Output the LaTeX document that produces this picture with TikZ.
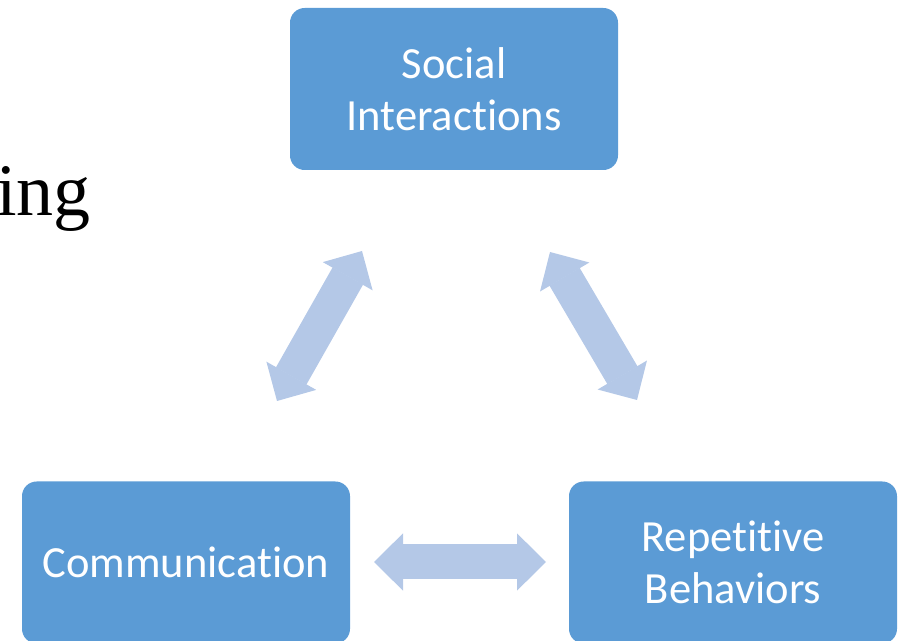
\documentclass[tikz,border=0pt]{standalone}
\usepackage{fontspec}
\setmainfont{Liberation Serif}
\newfontfamily\boxfont[Ligatures={NoCommon}]{Carlito}
\usetikzlibrary{arrows.meta}

\definecolor{boxblue}{RGB}{91,155,213}
\definecolor{linkblue}{RGB}{180,200,231}

\tikzset{
  areabox/.style={
    draw=none, fill=boxblue, rounded corners=11pt,
    minimum width=246pt, minimum height=121.5pt, inner sep=0pt,
    text=white, align=center,
    font=\boxfont\fontsize{33.4}{39}\selectfont
  },
  blocktip/.tip={Triangle[length=21.75pt, width=42.75pt, line width=1pt]},
  link/.style={
    draw=linkblue, line width=26.25pt, line cap=butt,
    {blocktip}-{blocktip}
  }
}

\begin{document}
\begin{tikzpicture}[x=0.75pt, y=-0.75pt]
  \useasboundingbox (0,0) rectangle (904,641);
  \clip (0,0) rectangle (904,641);

  % heading fragment on the left
  \node[anchor=base east, inner sep=0pt,
        font=\fontsize{55.5}{60}\selectfont] (head) at (91,216) {ing};

  % the three areas
  \node[areabox] (social) at (454,89) {Social\\Interactions};
  \node[areabox] (comm)   at (186,562.5) {Communication};
  \node[areabox] (rep)    at (733,562.5) {Repetitive\\Behaviors};

  % ends of the two-way links
  \coordinate (cs) at (362,251);
  \coordinate (sc) at (277,401);
  \coordinate (sr) at (550,252);
  \coordinate (rs) at (637,400);
  \coordinate (cr) at (374,562);
  \coordinate (rc) at (546,562);

  % two-way links between the areas
  \draw[link] (sc) -- (cs);
  \draw[link] (sr) -- (rs);
  \draw[link] (cr) -- (rc);
\end{tikzpicture}
\end{document}
